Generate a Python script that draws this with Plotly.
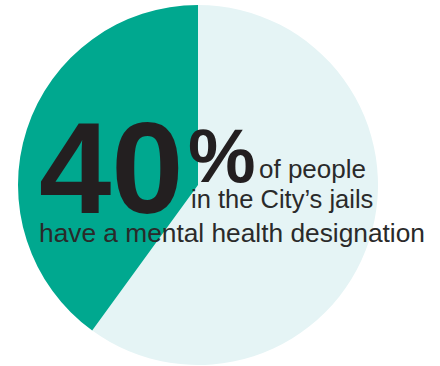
import plotly.graph_objects as go

labels = ["Other", "Mental health designation"]
values = [60, 40]
colors = ["#e5f4f5", "#00a88f"]

big_number = "40"
pct_sign = "%"
line1 = "of people"
line2 = "in the City’s jails"
line3 = "have a mental health designation"

W, H = 440, 366

def py(ypx):
    return 1 - ypx / H

def px(xpx):
    return xpx / W

fig = go.Figure()
fig.add_trace(go.Pie(
    labels=labels, values=values, sort=False, direction="clockwise",
    rotation=0, marker=dict(colors=colors, line=dict(width=0)),
    textinfo="none", hoverinfo="none", showlegend=False,
    domain=dict(x=[px(18), px(378)], y=[py(365), py(5)]),
))

txt = "#231f20"
font_reg = "Liberation Sans, Arial, sans-serif"

def ann(text, x, baseline, size, bold=False, color=txt):
    fig.add_annotation(
        text=f"<b>{text}</b>" if bold else text,
        xref="paper", yref="paper", x=px(x), y=py(baseline - 0.35 * size),
        xanchor="left", yanchor="middle", showarrow=False,
        font=dict(family=font_reg, size=size, color=color),
        borderpad=0, borderwidth=0,
    )

ann(big_number, 39, 213, 130, bold=True)
ann(pct_sign, 188, 182, 76, bold=True)
ann(line1, 259, 178, 26, color="#2a2a2a")
ann(line2, 191, 208, 25.5, color="#2a2a2a")
ann(line3, 38.5, 242, 26.3, color="#2a2a2a")

fig.update_layout(
    width=W, height=H, margin=dict(l=0, r=0, t=0, b=0),
    paper_bgcolor="white", plot_bgcolor="white",
)
fig.write_html("out.html")
